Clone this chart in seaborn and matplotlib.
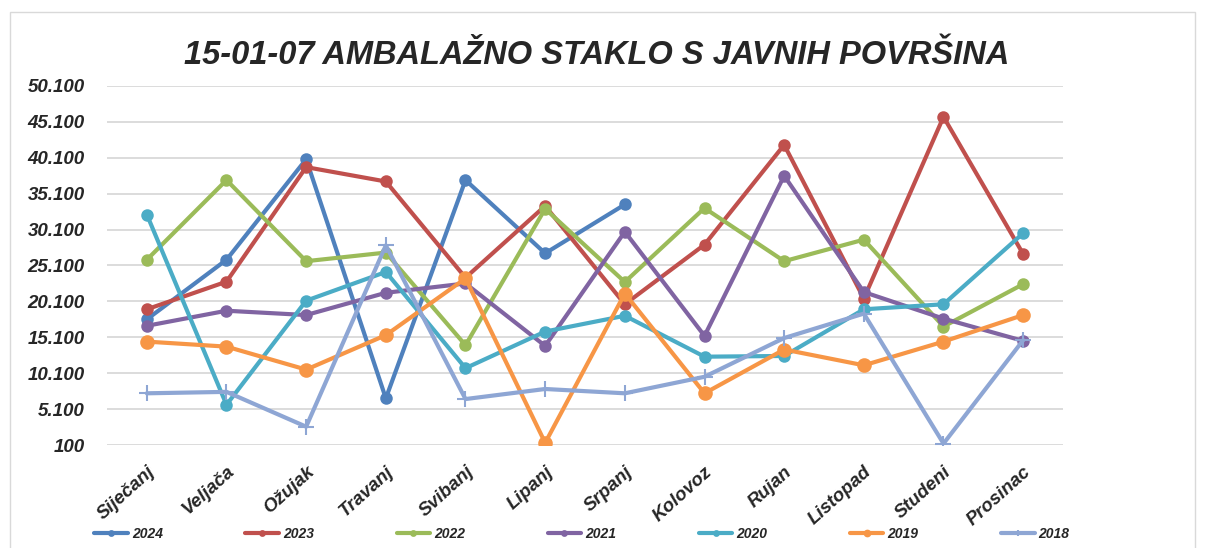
import numpy as np
import pandas as pd
import matplotlib.pyplot as plt
import seaborn as sns
from matplotlib.patches import Rectangle

# Podaci (očitano s grafa)
months = ["Siječanj", "Veljača", "Ožujak", "Travanj", "Svibanj", "Lipanj",
          "Srpanj", "Kolovoz", "Rujan", "Listopad", "Studeni", "Prosinac"]

y2024 = [17600, 25900, 39900, 6600, 37000, 26800, 33600,
         np.nan, np.nan, np.nan, np.nan, np.nan]
y2023 = [19000, 22850, 38800, 36800, 23400, 33400, 19700, 28000, 41900, 20500, 45800, 26700]
y2022 = [25900, 37000, 25700, 26900, 14000, 33000, 22800, 33100, 25700, 28700, 16600, 22500]
y2021 = [16700, 18800, 18200, 21300, 22600, 13900, 29800, 15300, 37600, 21400, 17700, 14600]
y2020 = [32200, 5700, 20200, 24200, 10800, 15900, 18100, 12400, 12500, 19000, 19700, 29600]
y2019 = [14500, 13800, 10600, 15400, 23300, 400, 21200, 7300, 13400, 11200, 14500, 18200]
y2018 = [7300, 7500, 2650, 27900, 6500, 7900, 7300, 9600, 15000, 18400, 300, 14700]

years = ["2024", "2023", "2022", "2021", "2020", "2019", "2018"]
series = [y2024, y2023, y2022, y2021, y2020, y2019, y2018]
colors = ["#4F81BD", "#C0504D", "#9BBB59", "#8064A2", "#4BACC6", "#F79646", "#8EA6D4"]

df = pd.DataFrame({
    "mj": np.tile(np.arange(len(months)), len(years)),
    "vrijednost": np.concatenate(series),
    "godina": np.repeat(years, len(months)),
})

sns.set_style("white")
plt.rcParams["font.family"] = ["Liberation Sans", "DejaVu Sans"]

fig = plt.figure(figsize=(12.08, 5.48), dpi=100)
ax = fig.add_axes([107 / 1208, 1 - 445 / 548, (1063 - 107) / 1208, (445 - 86) / 548])

# okvir grafikona
fig.patches.append(Rectangle((10 / 1208, -0.1), 1185 / 1208, 1.1 - 12 / 548,
                             transform=fig.transFigure, fill=False,
                             edgecolor="#D9D9D9", linewidth=1))

for god, boja in zip(years, colors):
    d = df[df["godina"] == god].dropna()
    marker = "+" if god == "2018" else "o"
    ms = 9 if god == "2019" else (11 if god == "2018" else 7.5)
    sns.lineplot(data=d, x="mj", y="vrijednost", ax=ax, color=boja,
                 linewidth=3, marker=marker, markersize=ms,
                 markeredgecolor=boja, markeredgewidth=1.5, label=god)

ax.set_xlim(-0.5, 11.5)
ax.set_ylim(100, 50100)
yt = list(range(100, 50101, 5000))
ax.set_yticks(yt)
ax.set_yticklabels([f"{v:,}".replace(",", ".") for v in yt],
                   fontsize=13.5, fontweight="bold", fontstyle="italic", color="#262626")
ax.set_xticks(range(len(months)))
ax.set_xticklabels(months, rotation=42, ha="right", rotation_mode="anchor",
                   fontsize=13.5, fontweight="bold", fontstyle="italic", color="#262626")
ax.tick_params(axis="both", length=0)
ax.tick_params(axis="y", pad=16)
ax.tick_params(axis="x", pad=13)
ax.grid(axis="y", color="#D9D9D9", linewidth=1.3)
ax.set_axisbelow(True)
for s in ax.spines.values():
    s.set_visible(False)
ax.set_xlabel("")
ax.set_ylabel("")

fig.text(597 / 1208, 1 - 55 / 548, "15-01-07 AMBALAŽNO STAKLO S JAVNIH POVRŠINA",
         ha="center", va="center", fontsize=23.5, fontweight="bold", fontstyle="italic",
         color="#262626")

ax.get_legend().remove()
h, l = ax.get_legend_handles_labels()
fig.legend(h, l, loc="lower center", bbox_to_anchor=(582 / 1208, -0.01), ncol=7,
           frameon=False, markerscale=0.45, handlelength=2.4, handletextpad=0.3,
           columnspacing=5.95, prop={"size": 10, "weight": "bold", "style": "italic"})

fig.savefig("out.png", dpi=100)
